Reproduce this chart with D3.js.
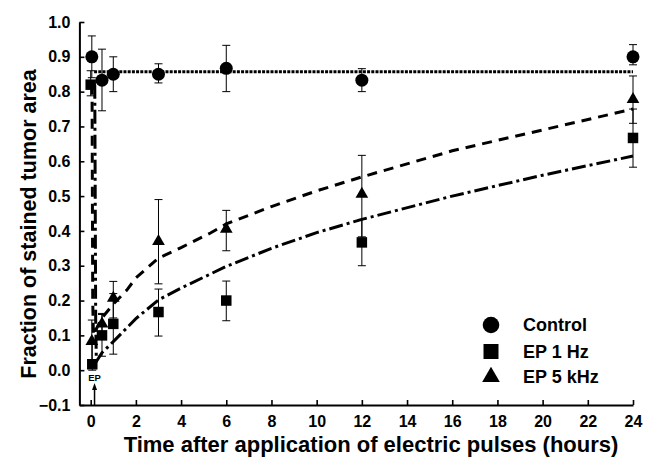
<!DOCTYPE html>
<html><head><meta charset="utf-8">
<script src="https://cdn.jsdelivr.net/npm/d3@7"></script>
<style>body{margin:0;background:#fff}svg{display:block}text{font-family:"Liberation Sans",Arial,sans-serif;font-weight:bold;fill:#000}</style>
</head><body>
<script>
// ---- data ----
const xTicks = [0,2,4,6,8,10,12,14,16,18,20,22,24];
const yTicks = [-0.1,0,0.1,0.2,0.3,0.4,0.5,0.6,0.7,0.8,0.9,1.0];
const seriesNames = ["Control","EP 1 Hz","EP 5 kHz"];

const ctrlT  = [0.05, 0.5, 1, 3, 6, 12, 24];
const ctrlV  = [0.9, 0.833, 0.85, 0.85, 0.867, 0.833, 0.9];
const ctrlLo = [0.84, 0.745, 0.8, 0.825, 0.8, 0.8, 0.877];
const ctrlHi = [0.96, 0.922, 0.9, 0.88, 0.933, 0.866, 0.935];

const hz1T  = [0, 0.07, 0.5, 1, 3, 6, 12, 24];
const hz1V  = [0.82, 0.017, 0.1, 0.133, 0.167, 0.2, 0.367, 0.667];
const hz1Lo = [0.788, 0.0, 0.04, 0.046, 0.098, 0.142, 0.3, 0.583];
const hz1Hi = [0.86, 0.08, 0.16, 0.22, 0.233, 0.256, 0.433, 0.75];

const k5T  = [0.05, 0.5, 1, 3, 6, 12, 24];
const k5V  = [0.083, 0.133, 0.207, 0.37, 0.405, 0.506, 0.778];
const k5Lo = [0.03, 0.1, 0.15, 0.248, 0.343, 0.383, 0.709];
const k5Hi = [0.144, 0.163, 0.255, 0.49, 0.459, 0.617, 0.845];

// fitted curves
const fitCtrlT = [0.15, 24];
const fitCtrlV = [0.857, 0.857];
const fit5kT = [0.06, 0.07, 0.09, 0.12, 0.3, 0.5, 1, 1.6, 2, 3, 4, 5.3, 6, 8, 10, 12, 16, 20, 24];
const fit5kV = [0.82, 0.6, 0.2, 0.1, 0.125, 0.15, 0.19, 0.23, 0.265, 0.322, 0.352, 0.394, 0.42, 0.47, 0.515, 0.555, 0.63, 0.69, 0.75];
const fit1hT = [0.18, 0.2, 0.22, 0.25, 0.5, 1, 2, 3, 4, 6, 8, 10, 12, 16, 20, 24];
const fit1hV = [0.82, 0.5, 0.15, 0.025, 0.05, 0.082, 0.148, 0.202, 0.236, 0.298, 0.35, 0.395, 0.433, 0.5, 0.56, 0.615];

// ---- drawing ----
const W = 645, H = 458;
const svg = d3.select("body").append("svg").attr("width", W).attr("height", H);
const x = d3.scaleLinear().domain([-0.5, 24]).range([79.4, 633]);
const y = d3.scaleLinear().domain([-0.1, 1.0]).range([405, 22]);

// axes
const xAxis = d3.axisBottom(x).tickValues(xTicks).tickSize(-5).tickSizeOuter(0).tickPadding(11).tickFormat(d3.format("d"));
const gx = svg.append("g").attr("transform", `translate(0,${y(-0.1)})`).call(xAxis);
const yAxis = d3.axisLeft(y).tickValues(yTicks).tickSize(-5).tickSizeOuter(0).tickPadding(9).tickFormat(d3.format(".1f"));
const gy = svg.append("g").attr("transform", `translate(${x(-0.5)},0)`).call(yAxis);
[gx, gy].forEach(g => {
  g.select(".domain").attr("stroke", "#000").attr("stroke-width", 2);
  g.selectAll(".tick line").attr("stroke", "#000").attr("stroke-width", 1.6);
  g.selectAll(".tick text").style("font-size", "16px").style("font-weight", "bold").attr("fill", "#000");
});

// axis titles
svg.append("text").attr("x", 371).attr("y", 452).attr("text-anchor", "middle").style("font-size", "22px")
  .text("Time after application of electric pulses (hours)");
svg.append("text").attr("transform", "translate(36,224) rotate(-90)").attr("text-anchor", "middle").style("font-size", "21.5px")
  .text("Fraction of stained tumor area");

// fitted lines
const line = d3.line().x(d => x(d[0])).y(d => y(d[1]));
const zip = (a, b) => a.map((v, i) => [v, b[i]]);
svg.append("path").attr("d", line(zip(fitCtrlT, fitCtrlV))).attr("fill", "none").attr("stroke", "#000").attr("stroke-width", 3).attr("stroke-dasharray", "3,1.2");
svg.append("path").attr("d", line(zip(fit5kT, fit5kV))).attr("fill", "none").attr("stroke", "#000").attr("stroke-width", 3).attr("stroke-dasharray", "10,7");
svg.append("path").attr("d", line(zip(fit1hT, fit1hV))).attr("fill", "none").attr("stroke", "#000").attr("stroke-width", 3).attr("stroke-dasharray", "14,4,3,4");

// EP arrow
svg.append("line").attr("x1", x(0.17)).attr("x2", x(0.17)).attr("y1", y(-0.1)).attr("y2", 389).attr("stroke", "#000").attr("stroke-width", 1.5);
svg.append("path").attr("d", `M${x(0.17)},383 l-2.5,7 l5,0 z`).attr("fill", "#000");
svg.append("text").attr("x", x(0.17)).attr("y", 381).attr("text-anchor", "middle").style("font-size", "9.5px").text("EP");

// error bars
function errBars(T, Lo, Hi) {
  const g = svg.append("g").attr("stroke", "#000").attr("stroke-width", 1);
  T.forEach((t, i) => {
    const cx = x(t);
    g.append("line").attr("x1", cx).attr("x2", cx).attr("y1", y(Lo[i])).attr("y2", y(Hi[i]));
    g.append("line").attr("x1", cx - 4).attr("x2", cx + 4).attr("y1", y(Lo[i])).attr("y2", y(Lo[i]));
    g.append("line").attr("x1", cx - 4).attr("x2", cx + 4).attr("y1", y(Hi[i])).attr("y2", y(Hi[i]));
  });
}
errBars(ctrlT, ctrlLo, ctrlHi);
errBars(hz1T, hz1Lo, hz1Hi);
errBars(k5T, k5Lo, k5Hi);

// markers
const circ = d3.symbol().type(d3.symbolCircle).size(Math.PI * 6.5 * 6.5);
const sq = d3.symbol().type(d3.symbolSquare).size(10.5 * 10.5);
const tri = d3.symbol().type(d3.symbolTriangle).size(70);
function markers(T, V, sym) {
  svg.append("g").selectAll("path").data(T).join("path")
    .attr("transform", (t, i) => `translate(${x(t)},${y(V[i])})`).attr("d", sym).attr("fill", "#000");
}
markers(k5T, k5V, tri);
markers(hz1T, hz1V, sq);
markers(ctrlT, ctrlV, circ);

// legend
const legSyms = [d3.symbol().type(d3.symbolCircle).size(Math.PI * 8.3 * 8.3)(),
                 d3.symbol().type(d3.symbolSquare).size(15 * 15)(),
                 d3.symbol().type(d3.symbolTriangle).size(135)()];
const legY = [325, 351.5, 377];
seriesNames.forEach((n, i) => {
  svg.append("path").attr("d", legSyms[i]).attr("transform", `translate(491,${legY[i]})`).attr("fill", "#000");
  svg.append("text").attr("x", 523).attr("y", legY[i]).attr("dy", "0.36em").style("font-size", "18px").text(n);
});
</script>
</body></html>
